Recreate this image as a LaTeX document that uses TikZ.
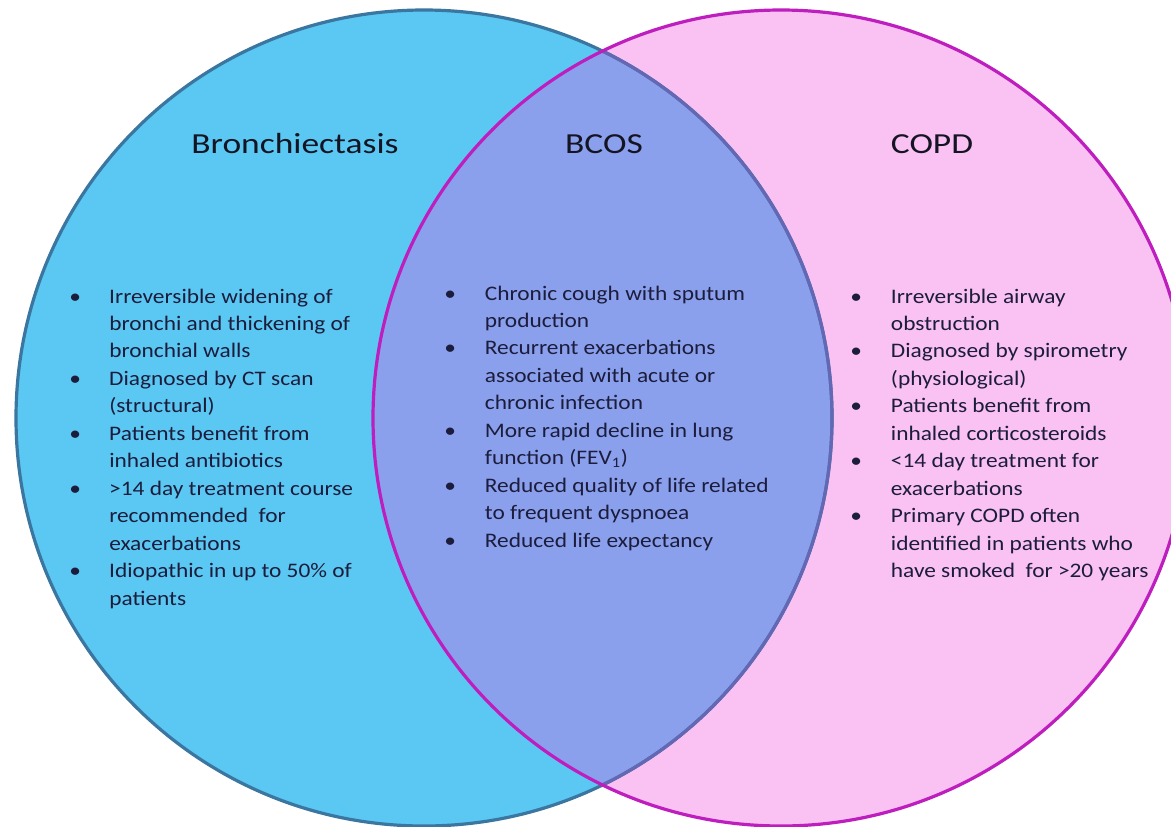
\documentclass[tikz,border=0pt]{standalone}
\usepackage{fontspec}
\setmainfont{Carlito}[FakeStretch=1.13]
\newfontfamily\titlefont{Carlito}[FakeStretch=1.22]
\definecolor{bluefill}{RGB}{90,200,242}
\definecolor{blueline}{RGB}{58,118,160}
\definecolor{pinkfill}{RGB}{250,193,243}
\definecolor{magline}{RGB}{190,30,190}
\definecolor{overlapfill}{RGB}{138,160,236}
\definecolor{innerline}{RGB}{100,104,180}
\definecolor{textcol}{RGB}{28,28,60}
\definecolor{titlecol}{RGB}{20,20,35}
\tikzset{
  title/.style={font=\titlefont\fontsize{21.8}{26}\selectfont, text=titlecol, inner sep=0pt},
  listbox/.style={font=\fontsize{15.5}{20.6}\selectfont, text=textcol, inner sep=0pt, anchor=base west},
  ringline/.style={line width=2.4pt}
}
\newcommand{\bul}{\textbullet}
\begin{document}
\begin{tikzpicture}[x=0.75pt,y=-0.75pt]
\useasboundingbox (0,0) rectangle (1171,826);
\fill[white] (0,0) rectangle (1171,826);
\coordinate (cl) at (424,418);
\coordinate (cr) at (781,418);
\fill[bluefill] (cl) circle (408);
\fill[pinkfill] (cr) circle (408);
\begin{scope}
  \clip (cl) circle (408);
  \fill[overlapfill] (cr) circle (408);
\end{scope}
\draw[ringline, blueline] (cl) circle (408);
\begin{scope}
  \clip (cr) circle (408);
  \draw[ringline, innerline] (cl) circle (408);
\end{scope}
\draw[ringline, magline] (cr) circle (408);

\node[title] (tb) at (295,144) {Bronchiectasis};
\node[title] (tc) at (604,144) {BCOS};
\node[title] (tr) at (932,144) {COPD};

\node[listbox] (lb) at (69,303) {\begin{tabular}[t]{@{}p{30pt}@{}l@{}}
\bul & Irreversible widening of\\
 & bronchi and thickening of\\
 & bronchial walls\\
\bul & Diagnosed by CT scan\\
 & (structural)\\
\bul & Patients benefit from\\
 & inhaled antibiotics\\
\bul & >14 day treatment course\\
 & recommended\ \ for\\
 & exacerbations\\
\bul & Idiopathic in up to 50\% of\\
 & patients
\end{tabular}};

\node[listbox] (lc) at (444,300) {\begin{tabular}[t]{@{}p{30.5pt}@{}l@{}}
\bul & Chronic cough with sputum\\
 & production\\
\bul & Recurrent exacerbations\\
 & associated with acute or\\
 & chronic infection\\
\bul & More rapid decline in lung\\
 & function (FEV\textsubscript{1})\\
\bul & Reduced quality of life related\\
 & to frequent dyspnoea\\
\bul & Reduced life expectancy
\end{tabular}};

\node[listbox] (lr) at (850,303) {\begin{tabular}[t]{@{}p{30.5pt}@{}l@{}}
\bul & Irreversible airway\\
 & obstruction\\
\bul & Diagnosed by spirometry\\
 & (physiological)\\
\bul & Patients benefit from\\
 & inhaled corticosteroids\\
\bul & <14 day treatment for\\
 & exacerbations\\
\bul & Primary COPD often\\
 & identified in patients who\\
 & have smoked\ \ for >20 years
\end{tabular}};
\end{tikzpicture}
\end{document}
